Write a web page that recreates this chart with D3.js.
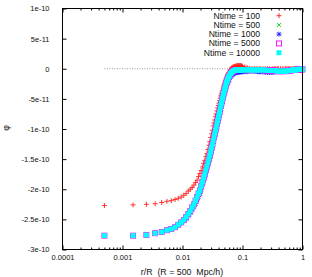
<!DOCTYPE html>
<html>
<head>
<meta charset="utf-8">
<script src="https://cdn.jsdelivr.net/npm/d3@7"></script>
<style>
  body { margin: 0; background: #fff; }
  svg { display: block; font-family: "Liberation Sans", Arial, sans-serif; }
  .tick text { fill: #111; }
</style>
</head>
<body>
<div id="chart"></div>
<script>
var w = 312, h = 277;

// r/R in units of 1e-3 (bin centres)
var rMilli = [0.5,1.5,2.5,3.5,4.5,5.5,6.5,7.5,8.5,9.5,
  10.5,11.5,12.5,13.5,14.5,15.5,16.5,17.5,18.5,19.5,
  20.5,21.5,22.5,23.5,24.5,25.5,26.5,27.5,28.5,29.5,
  30.5,31.5,32.5,33.5,34.5,35.5,36.5,37.5,38.5,39.5,
  40.5,41.5,42.5,43.5,44.5,45.5,46.5,47.5,48.5,49.5,
  50.5,51.5,52.5,53.5,54.5,55.5,56.5,57.5,58.5,59.5,
  61.5,63.5,65.5,67.5,69.5,71.5,73.5,75.5,77.5,79.5,
  81.5,83.5,85.5,87.5,89.5,91.5,93.5,95.5,97.5,99.5,
  109.5,119.5,129.5,139.5,149.5,159.5,169.5,179.5,189.5,199.5,
  219.5,239.5,259.5,279.5,299.5,319.5,339.5,359.5,379.5,399.5,
  429.5,459.5,489.5,519.5,549.5,579.5,609.5,639.5,669.5,699.5,
  729.5,759.5,789.5,819.5,849.5,879.5,909.5,939.5,969.5,999.5];

// phi in units of 1e-10
var phi100 = [-2.27,-2.26,-2.25,-2.24,-2.22,-2.20,-2.19,-2.17,-2.15,-2.13,
  -2.10,-2.07,-2.03,-2.00,-1.97,-1.93,-1.89,-1.85,-1.79,-1.74,
  -1.69,-1.63,-1.57,-1.52,-1.46,-1.41,-1.34,-1.27,-1.21,-1.14,
  -1.08,-1.02,-0.95,-0.90,-0.85,-0.79,-0.75,-0.70,-0.65,-0.61,
  -0.57,-0.53,-0.49,-0.45,-0.42,-0.39,-0.36,-0.32,-0.29,-0.26,
  -0.24,-0.21,-0.19,-0.16,-0.14,-0.12,-0.10,-0.09,-0.07,-0.06,
  -0.03,-0.01,0.01,0.02,0.03,0.03,0.04,0.04,0.04,0.05,
  0.05,0.05,0.05,0.05,0.05,0.05,0.05,0.05,0.04,0.04,
  0.03,0.02,0.01,0.00,0.00,0.00,0.00,0.00,0.00,0.00,
  0.00,0.00,0.00,0.00,-0.01,0.00,0.00,0.00,0.00,0.00,
  0.00,0.00,0.00,0.00,0.00,0.00,0.00,0.00,0.00,0.00,
  0.00,0.00,0.00,0.00,0.00,0.00,0.00,0.00,0.00,0.00];

var phi500 = [-2.77,-2.77,-2.76,-2.73,-2.71,-2.68,-2.66,-2.63,-2.59,-2.55,
  -2.52,-2.47,-2.42,-2.37,-2.31,-2.26,-2.20,-2.14,-2.08,-2.03,
  -1.96,-1.89,-1.82,-1.76,-1.69,-1.63,-1.57,-1.51,-1.45,-1.39,
  -1.32,-1.27,-1.20,-1.14,-1.09,-1.03,-0.98,-0.92,-0.87,-0.82,
  -0.77,-0.73,-0.67,-0.62,-0.58,-0.54,-0.50,-0.46,-0.42,-0.38,
  -0.35,-0.32,-0.29,-0.25,-0.23,-0.21,-0.19,-0.17,-0.15,-0.14,
  -0.11,-0.09,-0.07,-0.06,-0.05,-0.04,-0.04,-0.03,-0.03,-0.03,
  -0.03,-0.03,-0.03,-0.03,-0.03,-0.03,-0.03,-0.03,-0.03,-0.03,
  -0.03,-0.03,-0.03,-0.03,-0.03,-0.03,-0.03,-0.03,-0.03,-0.03,
  -0.03,-0.03,-0.03,-0.03,-0.03,-0.03,-0.03,-0.03,-0.03,-0.03,
  -0.03,-0.03,-0.03,-0.03,-0.03,-0.03,-0.03,-0.03,-0.02,-0.02,
  -0.02,-0.02,-0.02,-0.02,-0.02,-0.02,-0.02,-0.02,-0.02,-0.02];

var phi1000 = [-2.77,-2.77,-2.76,-2.73,-2.71,-2.68,-2.66,-2.63,-2.59,-2.56,
  -2.53,-2.49,-2.44,-2.39,-2.34,-2.29,-2.24,-2.18,-2.12,-2.07,
  -2.00,-1.93,-1.86,-1.80,-1.73,-1.67,-1.61,-1.55,-1.49,-1.43,
  -1.36,-1.31,-1.24,-1.18,-1.13,-1.07,-1.02,-0.96,-0.91,-0.86,
  -0.81,-0.77,-0.71,-0.66,-0.62,-0.58,-0.54,-0.50,-0.46,-0.42,
  -0.39,-0.36,-0.33,-0.29,-0.27,-0.25,-0.23,-0.21,-0.19,-0.18,
  -0.15,-0.13,-0.11,-0.10,-0.09,-0.08,-0.07,-0.07,-0.06,-0.06,
  -0.06,-0.06,-0.05,-0.05,-0.05,-0.05,-0.05,-0.05,-0.05,-0.05,
  -0.05,-0.05,-0.04,-0.04,-0.04,-0.04,-0.04,-0.05,-0.05,-0.05,
  -0.05,-0.06,-0.06,-0.06,-0.06,-0.06,-0.05,-0.05,-0.05,-0.05,
  -0.05,-0.05,-0.04,-0.04,-0.04,-0.04,-0.04,-0.03,-0.03,-0.03,
  -0.03,-0.03,-0.03,-0.02,-0.02,-0.02,-0.02,-0.02,-0.02,-0.02];

var phi5000 = [-2.77,-2.77,-2.76,-2.73,-2.71,-2.68,-2.66,-2.63,-2.59,-2.55,
  -2.51,-2.46,-2.41,-2.36,-2.30,-2.25,-2.19,-2.13,-2.07,-2.02,
  -1.95,-1.88,-1.81,-1.75,-1.68,-1.62,-1.56,-1.50,-1.44,-1.38,
  -1.31,-1.26,-1.19,-1.13,-1.08,-1.02,-0.97,-0.91,-0.86,-0.81,
  -0.76,-0.72,-0.66,-0.61,-0.57,-0.53,-0.49,-0.45,-0.41,-0.37,
  -0.34,-0.31,-0.28,-0.24,-0.22,-0.20,-0.18,-0.16,-0.14,-0.13,
  -0.10,-0.08,-0.06,-0.05,-0.04,-0.03,-0.03,-0.02,-0.02,-0.02,
  -0.02,-0.02,-0.02,-0.02,-0.02,-0.02,-0.02,-0.02,-0.02,-0.02,
  -0.02,-0.02,-0.02,-0.02,-0.02,-0.02,-0.02,-0.02,-0.02,-0.02,
  -0.02,-0.02,-0.03,-0.03,-0.03,-0.03,-0.03,-0.03,-0.04,-0.04,
  -0.04,-0.04,-0.04,-0.04,-0.04,-0.03,-0.03,-0.03,-0.02,-0.02,
  -0.02,-0.02,-0.02,-0.01,-0.01,-0.01,-0.01,-0.01,-0.01,-0.01];

var phi10000 = [-2.77,-2.77,-2.76,-2.73,-2.71,-2.68,-2.66,-2.63,-2.59,-2.55,
  -2.51,-2.46,-2.41,-2.36,-2.30,-2.25,-2.19,-2.13,-2.07,-2.02,
  -1.95,-1.88,-1.81,-1.75,-1.68,-1.62,-1.56,-1.50,-1.44,-1.38,
  -1.31,-1.26,-1.19,-1.13,-1.08,-1.02,-0.97,-0.91,-0.86,-0.81,
  -0.76,-0.72,-0.66,-0.61,-0.57,-0.53,-0.49,-0.45,-0.41,-0.37,
  -0.34,-0.31,-0.28,-0.24,-0.22,-0.20,-0.18,-0.16,-0.14,-0.13,
  -0.10,-0.08,-0.06,-0.05,-0.04,-0.03,-0.03,-0.02,-0.02,-0.02,
  -0.02,-0.02,-0.02,-0.02,-0.02,-0.02,-0.02,-0.02,-0.02,-0.02,
  -0.02,-0.02,-0.02,-0.02,-0.02,-0.02,-0.02,-0.02,-0.02,-0.02,
  -0.02,-0.02,-0.03,-0.03,-0.03,-0.03,-0.03,-0.03,-0.04,-0.04,
  -0.04,-0.04,-0.04,-0.04,-0.04,-0.03,-0.03,-0.03,-0.02,-0.02,
  -0.02,-0.02,-0.02,-0.01,-0.01,-0.01,-0.01,-0.01,-0.01,-0.01];

var seriesNames = ["Ntime = 100", "Ntime = 500", "Ntime = 1000", "Ntime = 5000", "Ntime = 10000"];
var seriesValues = [phi100, phi500, phi1000, phi5000, phi10000];
var seriesColors = ["#ff2020", "#00d000", "#2020ff", "#ff00ff", "#00ffff"];
var seriesShapes = ["plus", "cross", "star", "box", "fbox"];

var xTickValues = [0.0001, 0.001, 0.01, 0.1, 1];
var xTickLabels = ["0.0001", "0.001", "0.01", "0.1", "1"];
var yTickValues = [1, 0.5, 0, -0.5, -1, -1.5, -2, -2.5, -3];
var yTickLabels = ["1e-10", "5e-11", "0", "-5e-11", "-1e-10", "-1.5e-10", "-2e-10", "-2.5e-10", "-3e-10"];
var zeroLineR = [0.0005, 1];

var margin = {left: 62.5, right: 302.5, top: 8.5, bottom: 249.5};

var x = d3.scaleLog().domain([1e-4, 1]).range([margin.left, margin.right]);
var y = d3.scaleLinear().domain([-3, 1]).range([margin.bottom, margin.top]);

var svg = d3.select("#chart").append("svg")
    .attr("width", w)
    .attr("height", h);

// minor tick positions 2..9 in each decade
var minorTicks = [];
xTickValues.slice(0, -1).forEach(function(d) {
    for (var k = 2; k <= 9; k++) minorTicks.push(d * k);
});

function styleAxis(g) {
    g.select(".domain").remove();
    g.selectAll(".tick line").attr("stroke", "#000");
    g.selectAll(".tick text").attr("font-size", "7.5px");
}

svg.append("g")
    .attr("transform", "translate(" + margin.left + ",0)")
    .call(d3.axisLeft(y).tickValues(yTickValues)
        .tickFormat(function(d, i) { return yTickLabels[i]; })
        .tickSize(-4).tickPadding(13))
    .call(styleAxis);

svg.append("g")
    .attr("transform", "translate(" + margin.right + ",0)")
    .call(d3.axisRight(y).tickValues(yTickValues).tickFormat("").tickSize(-4))
    .call(styleAxis);

svg.append("g")
    .attr("transform", "translate(0," + margin.bottom + ")")
    .call(d3.axisBottom(x).tickValues(xTickValues)
        .tickFormat(function(d, i) { return xTickLabels[i]; })
        .tickSize(-4).tickPadding(5))
    .call(styleAxis);

svg.append("g")
    .attr("transform", "translate(0," + margin.bottom + ")")
    .call(d3.axisBottom(x).tickValues(minorTicks).tickFormat("").tickSize(-2))
    .call(styleAxis);

svg.append("g")
    .attr("transform", "translate(0," + margin.top + ")")
    .call(d3.axisTop(x).tickValues(xTickValues).tickFormat("").tickSize(-4))
    .call(styleAxis);

svg.append("g")
    .attr("transform", "translate(0," + margin.top + ")")
    .call(d3.axisTop(x).tickValues(minorTicks).tickFormat("").tickSize(-2))
    .call(styleAxis);

// zero line
svg.append("line")
    .attr("x1", x(zeroLineR[0])).attr("x2", x(zeroLineR[1]))
    .attr("y1", y(0)).attr("y2", y(0))
    .attr("stroke", "#999")
    .attr("stroke-width", 1)
    .attr("stroke-dasharray", "1,1.5");

function drawMarker(sel, shape, color) {
    if (shape == "plus") {
        sel.append("path").attr("d", "M-2.5,0H2.5M0,-2.5V2.5")
            .attr("stroke", color).attr("stroke-width", 0.9).attr("fill", "none");
    } else if (shape == "cross") {
        sel.append("path").attr("d", "M-2,-2L2,2M-2,2L2,-2")
            .attr("stroke", color).attr("stroke-width", 0.9).attr("fill", "none");
    } else if (shape == "star") {
        sel.append("path").attr("d", "M-2.5,0H2.5M0,-2.5V2.5M-2,-2L2,2M-2,2L2,-2")
            .attr("stroke", color).attr("stroke-width", 0.9).attr("fill", "none");
    } else if (shape == "box") {
        sel.append("rect").attr("x", -2.5).attr("y", -2.5).attr("width", 5).attr("height", 5)
            .attr("stroke", color).attr("stroke-width", 0.9).attr("fill", "none");
    } else {
        sel.append("rect").attr("x", -2.5).attr("y", -2.5).attr("width", 5).attr("height", 5)
            .attr("fill", color);
    }
}

seriesValues.forEach(function(vals, s) {
    var pts = rMilli.map(function(r, i) { return {r: r / 1000, phi: vals[i]}; });
    var g = svg.append("g");
    var m = g.selectAll("g").data(pts).enter().append("g")
        .attr("transform", function(d) { return "translate(" + x(d.r) + "," + y(d.phi) + ")"; });
    drawMarker(m, seriesShapes[s], seriesColors[s]);
});

// border
svg.append("rect")
    .attr("x", margin.left).attr("y", margin.top)
    .attr("width", margin.right - margin.left)
    .attr("height", margin.bottom - margin.top)
    .attr("fill", "none").attr("stroke", "#000");

// legend
var legend = svg.append("g");
seriesNames.forEach(function(name, i) {
    var ly = 15.7 + i * 9.25;
    legend.append("text")
        .attr("x", 260).attr("y", ly).attr("dy", "0.35em")
        .attr("text-anchor", "end")
        .attr("font-size", "8.6px")
        .attr("fill", "#111")
        .text(name);
    var mk = legend.append("g").attr("transform", "translate(279," + ly + ")");
    drawMarker(mk, seriesShapes[i], seriesColors[i]);
});

// axis labels
svg.append("text")
    .attr("x", 182).attr("y", 272).attr("dy", "0.35em")
    .attr("text-anchor", "middle")
    .attr("font-size", "8.8px")
    .attr("fill", "#111")
    .style("white-space", "pre")
    .text("r/R  (R = 500  Mpc/h)");

svg.append("text")
    .attr("transform", "translate(6,128) rotate(-90)")
    .attr("text-anchor", "middle")
    .attr("dy", "0.35em")
    .attr("font-size", "8.8px")
    .attr("fill", "#111")
    .text("φ");
</script>
</body>
</html>
